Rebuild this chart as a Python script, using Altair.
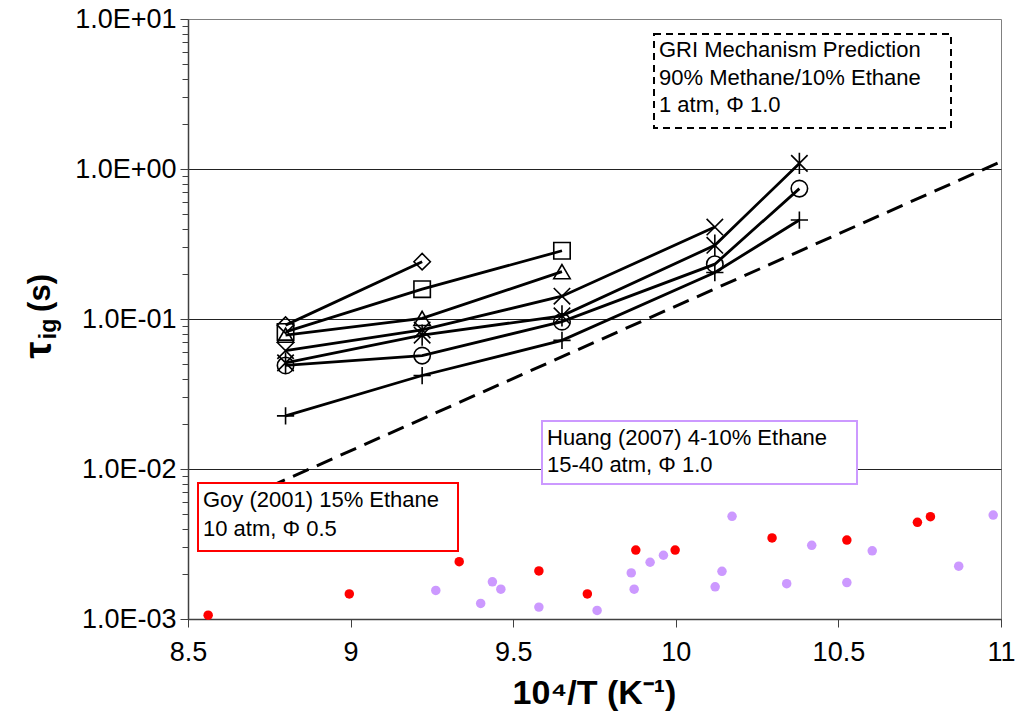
import altair as alt
import pandas as pd

# Inverse temperature (10^4/T) of the shock-tube runs
X_PTS = [8.80, 9.22, 9.65, 10.12, 10.38]

# Ignition delay (s) for each run series, in order of X_PTS
TAU_DIAMOND = [0.091, 0.241]
TAU_SQUARE = [0.082, 0.158, 0.285]
TAU_TRIANGLE = [0.078, 0.101, 0.207]
TAU_CROSS = [0.0615, 0.0845, 0.142, 0.41]
TAU_STAR = [0.051, 0.078, 0.105, 0.31, 1.09]
TAU_CIRCLE = [0.049, 0.057, 0.096, 0.232, 0.74]
TAU_PLUS = [0.0226, 0.042, 0.072, 0.204, 0.457]

# GRI mechanism prediction (straight line on the Arrhenius plot)
GRI_X = [8.75, 11.0]
GRI_TAU = [0.0076, 1.12]

# Goy (2001), 15% ethane, 10 atm, phi 0.5
GOY_X = [8.562, 8.996, 9.334, 9.579, 9.728, 9.877, 9.998, 10.296, 10.526, 10.743, 10.783]
GOY_TAU = [0.00106, 0.00147, 0.00241, 0.00209, 0.00147, 0.00288, 0.00288,
           0.00347, 0.00336, 0.00441, 0.00481]

# Huang (2007), 4-10% ethane, 15-40 atm, phi 1.0
HUANG_X = [9.262, 9.400, 9.436, 9.462, 9.579, 9.758, 9.863, 9.872, 9.921, 9.962,
           10.121, 10.142, 10.173, 10.341, 10.418, 10.526, 10.604, 10.870, 10.976]
HUANG_TAU = [0.00155, 0.00127, 0.00177, 0.00158, 0.00120, 0.00114, 0.00203, 0.00158,
             0.00239, 0.00266, 0.00164, 0.00208, 0.00484, 0.00172, 0.00310, 0.00175,
             0.00285, 0.00225, 0.00493]

SERIES = ["diamond", "square", "triangle", "cross", "star", "circle", "plus"]
SERIES_TAU = [TAU_DIAMOND, TAU_SQUARE, TAU_TRIANGLE, TAU_CROSS, TAU_STAR, TAU_CIRCLE, TAU_PLUS]
SHAPES = [
    "diamond",
    "square",
    "triangle-up",
    "M-1,-1L1,1M-1,1L1,-1",
    "M-1,-1L1,1M-1,1L1,-1M0,-1.3L0,1.3",
    "circle",
    "M-1.05,0L1.05,0M0,-1.05L0,1.05",
]

runs = pd.DataFrame(
    [
        {"series": name, "x": x, "tau": t}
        for name, taus in zip(SERIES, SERIES_TAU)
        for x, t in zip(X_PTS, taus)
    ]
)
gri = pd.DataFrame({"x": GRI_X, "tau": GRI_TAU})
goy = pd.DataFrame({"x": GOY_X, "tau": GOY_TAU})
huang = pd.DataFrame({"x": HUANG_X, "tau": HUANG_TAU})

FONT = "Liberation Sans, Arial, sans-serif"
W, H = 813, 600

# log axis: decade labels plus minor ticks at 2..9
y_ticks = [m * 10.0 ** e for e in range(-3, 1) for m in range(1, 10)] + [10.0]
is_major = "abs(log(datum.value)/LN10 - round(log(datum.value)/LN10)) < 0.001"
decade = "round(log(datum.value)/LN10)"
y_label = (
    f"({is_major}) ? '1.0E' + ({decade} < 0 ? '-0' + (-{decade}) : '+0' + {decade}) : ''"
)
# gridlines at inner decades only (the top edge keeps the grey frame)
inner_grid = f"({is_major}) && datum.value < 5"

x_scale = alt.Scale(domain=[8.5, 11.0], nice=False, zero=False)
y_scale = alt.Scale(type="log", domain=[0.001, 10.0], nice=False)

x_axis = alt.Axis(
    values=[8.5, 9.0, 9.5, 10.0, 10.5, 11.0],
    labelExpr="'' + datum.value",
    grid=False,
    tickSize=8,
    tickColor="#404040",
    domainColor="#404040",
    domainWidth=1.5,
    labelFont=FONT,
    labelFontSize=27,
    labelColor="black",
    labelPadding=12,
    labelFlush=False,
    title=None,
)
y_axis = alt.Axis(
    values=y_ticks,
    labelExpr=y_label,
    grid=True,
    gridColor="#222222",
    gridWidth=1,
    gridOpacity={"condition": {"test": inner_grid, "value": 1}, "value": 0},
    tickSize={"condition": {"test": is_major, "value": 8}, "value": 6},
    tickColor="#404040",
    domainColor="#404040",
    domainWidth=1.5,
    labelFont=FONT,
    labelFontSize=27,
    labelColor="black",
    labelPadding=4,
    labelFlush=False,
    labelOverlap=False,
    title=None,
)

X = alt.X("x:Q", scale=x_scale, axis=x_axis)
Y = alt.Y("tau:Q", scale=y_scale, axis=y_axis)

gri_line = alt.Chart(gri).mark_line(
    color="black", strokeWidth=3, strokeDash=[17, 9]
).encode(x=X, y=Y)

run_lines = alt.Chart(runs).mark_line(color="black", strokeWidth=2.8).encode(
    x=X, y=Y, detail="series:N", order="x:Q"
)

run_points = alt.Chart(runs).mark_point(
    filled=False, color="black", strokeWidth=1.6, size=270, opacity=1
).encode(
    x=X,
    y=Y,
    shape=alt.Shape("series:N", scale=alt.Scale(domain=SERIES, range=SHAPES), legend=None),
)

goy_pts = alt.Chart(goy).mark_circle(color="#FF0000", size=90, opacity=1).encode(x=X, y=Y)
huang_pts = alt.Chart(huang).mark_circle(color="#CC99FF", size=90, opacity=1).encode(x=X, y=Y)

one = pd.DataFrame({"k": [0]})


def box(x0, x1, y0, y1, stroke, dash=None):
    kw = dict(fill="white", stroke=stroke, strokeWidth=2)
    if dash:
        kw["strokeDash"] = dash
    return alt.Chart(one).mark_rect(**kw).encode(
        x=alt.value(x0), x2=alt.value(x1), y=alt.value(y0), y2=alt.value(y1)
    )


def note(text, x, y, size=22, weight="normal", align="left", angle=0):
    kw = dict(align=align, baseline="middle", font=FONT, fontSize=size,
              fontWeight=weight, color="black")
    if angle:
        kw["angle"] = angle
    return alt.Chart(one).mark_text(**kw).encode(
        x=alt.value(x), y=alt.value(y), text=alt.value(text)
    )


annotations = [
    box(466, 763, 15, 109, "black", dash=[7, 5]),
    note("GRI Mechanism Prediction", 471, 31),
    note("90% Methane/10% Ethane", 471, 59),
    note("1 atm, \u03a6 1.0", 471, 86),
    box(354, 669, 402, 465, "#CC99FF"),
    note("Huang (2007) 4-10% Ethane", 359, 419),
    note("15-40 atm, \u03a6 1.0", 359, 446),
    box(10, 270, 464, 532, "#FF0000"),
    note("Goy (2001) 15% Ethane", 15, 481),
    note("10 atm, \u03a6 0.5", 15, 510),
]

# axis titles
titles = [
    note("10\u2074/T (K\u207b\u00b9)", W / 2, 675, size=34, weight="bold", align="center"),
    note("\u03c4", -148, 331, size=38, weight="bold", align="center", angle=270),
    note("ig", -139, 310, size=23, weight="bold", align="center", angle=270),
    note("(s)", -147, 274, size=31, weight="bold", align="center", angle=270),
]

chart = alt.layer(
    gri_line, run_lines, run_points, goy_pts, huang_pts, *annotations, *titles
).properties(
    width=W,
    height=H,
    autosize=alt.AutoSizeParams(type="none"),
    padding={"left": 188, "top": 19, "right": 17, "bottom": 102},
    background="white",
).configure_view(
    stroke="#808080", strokeWidth=1
)

chart.save("out.html", embed_options={"renderer": "svg", "actions": False})
